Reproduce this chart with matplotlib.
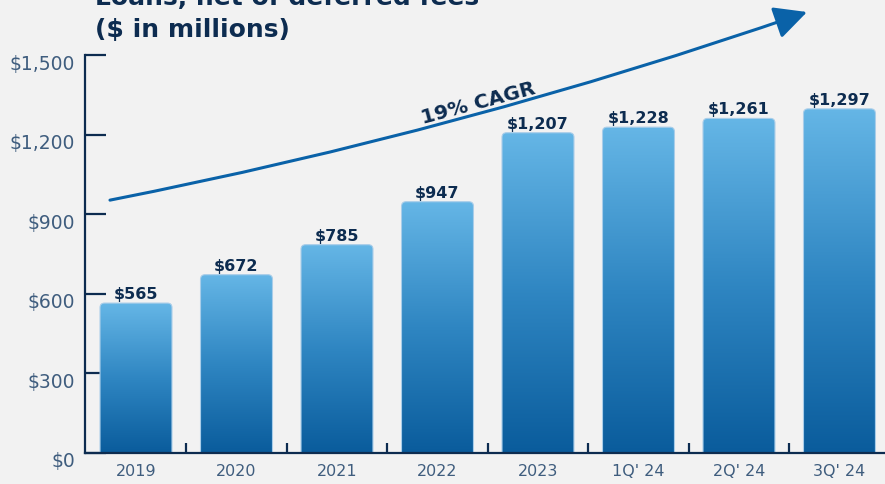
import numpy as np
import matplotlib
matplotlib.use('Agg')
from matplotlib import pyplot as plt
from matplotlib.patches import FancyBboxPatch
from matplotlib.colors import LinearSegmentedColormap
from matplotlib.transforms import ScaledTranslation

# Loans, net of deferred fees ($ in millions)
periods = ['2019', '2020', '2021', '2022', '2023', "1Q' 24", "2Q' 24", "3Q' 24"]
loans = [565, 672, 785, 947, 1207, 1228, 1261, 1297]
y_ticks = [0, 300, 600, 900, 1200, 1500]

NAVY = '#0d2c50'
SLATE = '#3f5d7e'
BG = '#f2f2f2'
BAR_W = 0.716

bar_cmap = LinearSegmentedColormap.from_list('bar', ['#0a5c9c', '#2f86c2', '#65b6e6'])
grad = np.linspace(0, 1, 256).reshape(-1, 1)

fig = plt.figure(figsize=(8.85, 4.84), dpi=100, facecolor=BG)
ax = fig.add_axes([85/885, 31/484, 800/885, 398/484])
ax.set_facecolor(BG)
ax.set_xlim(-0.5075, 7.453)
ax.set_ylim(0, 1500)

# aspect ratio between y and x data units, for rounded bar tops
aspect = (1500/398) / (1/100.5)

for i, v in enumerate(loans):
    x0 = i - BAR_W/2
    box = FancyBboxPatch((x0, -40), BAR_W, v + 40,
                         boxstyle='round,pad=0,rounding_size=0.045',
                         mutation_aspect=aspect,
                         facecolor='none', edgecolor='#a9cde9', lw=0.8, zorder=3)
    ax.add_patch(box)
    im = ax.imshow(grad, cmap=bar_cmap, origin='lower', aspect='auto',
                   extent=(x0, x0 + BAR_W, 0, v), zorder=2)
    im.set_clip_path(box)
    ax.annotate(f'${v:,}', (i, v), xytext=(0, 3), textcoords='offset points',
                ha='center', va='baseline', fontsize=11.5, fontweight='bold',
                color=NAVY, zorder=4)

# spines and ticks
for s in ['top', 'right']:
    ax.spines[s].set_visible(False)
for s in ['left', 'bottom']:
    ax.spines[s].set_color(NAVY)
    ax.spines[s].set_linewidth(1.6)
    ax.spines[s].set_zorder(5)

ax.set_yticks(y_ticks)
ax.set_yticklabels([f'${t:,}' for t in y_ticks])
ax.tick_params(axis='y', direction='in', length=15, width=1.6, color=NAVY,
               labelsize=13.5, labelcolor=SLATE, pad=-2)
for lab in ax.get_yticklabels():
    lab.set_transform(lab.get_transform() + ScaledTranslation(-0.13, -0.07, fig.dpi_scale_trans))

ax.set_xticks(range(len(periods)))
ax.set_xticklabels(periods)
ax.set_xticks(np.arange(0.5, len(periods) - 1, 1), minor=True)
ax.tick_params(axis='x', which='major', length=0, labelsize=11.5, labelcolor=SLATE, pad=8)
ax.tick_params(axis='x', which='minor', direction='in', length=7, width=1.6, color=NAVY)

# growth arrow
ax.annotate('', xy=(6.677, 1662), xytext=(-0.259, 953),
            arrowprops=dict(arrowstyle='-|>,head_length=2.0,head_width=1.0',
                            connectionstyle='arc3,rad=0.035', color='#0a62a8',
                            lw=2.2, shrinkA=0, shrinkB=0, mutation_scale=10),
            annotation_clip=False, zorder=6)
ax.text(3.41, 1318, '19% CAGR', rotation=15, ha='center', va='center',
        fontsize=14.5, fontweight='bold', color=NAVY, zorder=6)

# title
fig.text(95/885, 1 - 5/484, 'Loans, net of deferred fees', fontsize=18,
         fontweight='bold', color=NAVY, va='baseline', ha='left')
fig.text(95/885, 1 - 37/484, '($ in millions)', fontsize=18,
         fontweight='bold', color=NAVY, va='baseline', ha='left')

fig.savefig('out.png', dpi=100, facecolor=BG)
